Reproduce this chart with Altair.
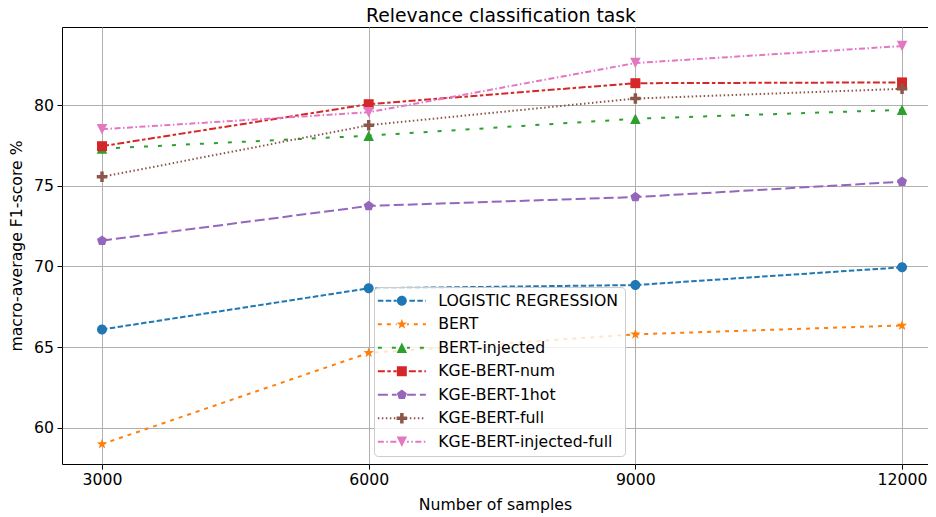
import math
import altair as alt
import pandas as pd

# ---------------- data ----------------
samples = [3000, 6000, 9000, 12000]
series_names = [
    "LOGISTIC REGRESSION",
    "BERT",
    "BERT-injected",
    "KGE-BERT-num",
    "KGE-BERT-1hot",
    "KGE-BERT-full",
    "KGE-BERT-injected-full",
]
logreg = [66.1, 68.65, 68.85, 69.95]
bert = [59.0, 64.65, 65.8, 66.35]
bert_injected = [77.3, 78.1, 79.15, 79.7]
kge_num = [77.45, 80.05, 81.35, 81.4]
kge_1hot = [71.6, 73.75, 74.3, 75.25]
kge_full = [75.55, 78.75, 80.4, 81.0]
kge_injected_full = [78.5, 79.55, 82.6, 83.65]
x_ticks = [3000, 6000, 9000, 12000]
y_ticks = [60, 65, 70, 75, 80]

all_values = [logreg, bert, bert_injected, kge_num, kge_1hot, kge_full, kge_injected_full]

# ---------------- styles ----------------
colors = ["#1f77b4", "#ff7f0e", "#2ca02c", "#d62728", "#9467bd", "#8c564b", "#e377c2"]
dashes = [[5.5, 2.4], [4, 5], [4, 10], [7, 2.5, 3.5, 2.5], [10, 4], [1.5, 2.5], [6, 2.5, 1.5, 2.5]]
marker_kinds = ["circle", "star", "tri_up", "square", "pentagon", "plus", "tri_down"]
LINE_W = 2.0
FONT = "DejaVu Sans"
FS = 15.7

MSIZE = 110  # symbol area -> ~10.5px box
UNIT = math.sqrt(MSIZE) / 2.0  # px per path unit


def fmt(v):
    return f"{v:.3f}".rstrip("0").rstrip(".")


def poly(pts):
    return "M" + "L".join(f"{fmt(x)},{fmt(y)}" for x, y in pts) + "Z"


def regular(n, r_out, r_in=None):
    pts = []
    k = n * 2 if r_in else n
    for i in range(k):
        a = -math.pi / 2 + i * 2 * math.pi / k
        r = r_out if (not r_in or i % 2 == 0) else r_in
        pts.append((r * math.cos(a), r * math.sin(a)))
    return poly(pts)


def marker_path(kind):
    if kind == "circle":
        return "M0.95,0A0.95,0.95,0,1,1,-0.95,0A0.95,0.95,0,1,1,0.95,0Z"
    if kind == "square":
        return "M-0.95,-0.95H0.95V0.95H-0.95Z"
    if kind == "tri_up":
        return poly([(0, -1), (1, 1), (-1, 1)])
    if kind == "tri_down":
        return poly([(0, 1), (1, -1), (-1, -1)])
    if kind == "star":
        return regular(5, 1.05, 0.42)
    if kind == "pentagon":
        return regular(5, 1.0)
    if kind == "plus":
        a = 1 / 3
        return poly([(-a, -1), (a, -1), (a, -a), (1, -a), (1, a), (a, a), (a, 1),
                     (-a, 1), (-a, a), (-1, a), (-1, -a), (-a, -a)])
    return ""


def legend_path(kind, pattern, half_len=24.0, hole=5.2, thick=LINE_W):
    parts = []
    t = thick / 2 / UNIT
    x = -half_len
    i = 0
    while x < half_len:
        d = pattern[i % len(pattern)]
        if i % 2 == 0:
            x0, x1 = x, min(x + d, half_len)
            for a, b in ((x0, min(x1, -hole)), (max(x0, hole), x1)):
                if b - a > 0.2:
                    parts.append(f"M{fmt(a / UNIT)},{fmt(-t)}H{fmt(b / UNIT)}V{fmt(t)}H{fmt(a / UNIT)}Z")
        x += d
        i += 1
    return "".join(parts) + marker_path(kind)


marker_paths = [marker_path(k) for k in marker_kinds]
legend_paths = [legend_path(k, p) for k, p in zip(marker_kinds, dashes)]

rows = []
for name, vals in zip(series_names, all_values):
    for s, v in zip(samples, vals):
        rows.append({"series": name, "samples": s, "score": v})
df = pd.DataFrame(rows)

x_enc = alt.X(
    "samples:Q",
    scale=alt.Scale(domain=[2550, 12292], nice=False, zero=False),
    axis=alt.Axis(values=x_ticks, format="d", title="Number of samples"),
)
y_enc = alt.Y(
    "score:Q",
    scale=alt.Scale(domain=[57.77, 84.83], nice=False, zero=False),
    axis=alt.Axis(values=y_ticks, format="d", title="macro-average F1-score %"),
)

base = alt.Chart(df)

layers = []
for name, col, dash, path in zip(series_names, colors, dashes, marker_paths):
    sub = base.transform_filter(alt.datum.series == name)
    layers.append(
        sub.mark_line(strokeWidth=LINE_W, color=col, strokeDash=dash, clip=True)
        .encode(x=x_enc, y=y_enc)
    )
    layers.append(
        sub.mark_point(filled=True, shape=path, size=MSIZE, opacity=1, strokeWidth=0, color=col)
        .encode(x=x_enc, y=y_enc)
    )

legend_kw = dict(
    title=None,
    orient="none",
    legendX=312,
    legendY=260,
    padding=6,
    labelFont=FONT,
    labelFontSize=FS,
    labelColor="black",
    labelLimit=400,
    symbolSize=MSIZE,
    symbolOffset=14,
    labelOffset=28.5,
    rowPadding=6.5,
    symbolOpacity=1,
    symbolStrokeWidth=0,
    fillColor="rgba(255,255,255,0.8)",
    strokeColor="#cccccc",
    cornerRadius=4,
)

legend_layer = (
    base.transform_filter("false")
    .mark_point(filled=True, size=MSIZE, opacity=1, strokeWidth=0)
    .encode(
        x=x_enc,
        y=y_enc,
        fill=alt.Fill(
            "series:N",
            scale=alt.Scale(domain=series_names, range=colors),
            legend=alt.Legend(**legend_kw),
        ),
        shape=alt.Shape(
            "series:N",
            scale=alt.Scale(domain=series_names, range=legend_paths),
            legend=alt.Legend(**legend_kw),
        ),
    )
)
layers.append(legend_layer)

chart = (
    alt.layer(*layers)
    .properties(
        width=866,
        height=437,
        padding={"left": 54, "top": 19, "right": 0, "bottom": 50},
        autosize=alt.AutoSizeParams(type="none"),
        title=alt.TitleParams(
            "Relevance classification task",
            font=FONT,
            fontSize=18.8,
            fontWeight="normal",
            color="black",
            offset=1,
            dx=6,
        ),
    )
    .configure_view(stroke="black", strokeWidth=1)
    .configure_axis(
        labelFont=FONT,
        labelFontSize=FS,
        labelColor="black",
        titleFont=FONT,
        titleFontSize=FS,
        titleFontWeight="normal",
        titleColor="black",
        tickColor="black",
        tickSize=5,
        tickWidth=1,
        domain=False,
        grid=True,
        gridColor="#b0b0b0",
        gridWidth=1,
        labelPadding=3.5,
    )
    .configure_axisX(titlePadding=10)
    .configure_axisY(titlePadding=9)
)

chart.save("out.html", embed_options={"renderer": "svg", "actions": False})
